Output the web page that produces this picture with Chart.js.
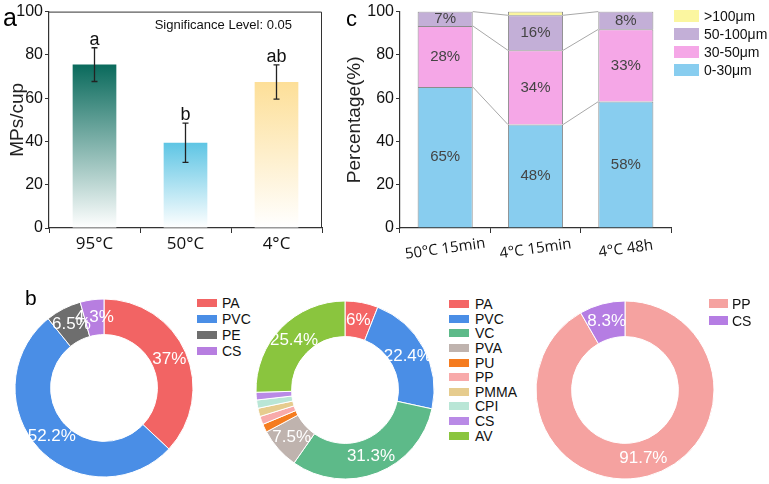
<!DOCTYPE html>
<html>
<head>
<meta charset="utf-8">
<script src="https://cdn.jsdelivr.net/npm/chart.js@4.4.1/dist/chart.umd.min.js"></script>
<style>
  body { margin: 0; width: 769px; height: 484px; position: relative; overflow: hidden; background: #fff;
         font-family: "Liberation Sans", Arial, sans-serif; color: #111; }
  canvas { position: absolute; }
  .tag { position: absolute; line-height: 1; color: #000; }
  .legend { position: absolute; font-size: 14px; color: #111; }
  .legend .item { display: flex; align-items: center; white-space: nowrap; }
  .legend .sw { display: inline-block; flex: none; }
</style>
</head>
<body>
<canvas id="chartA" width="330" height="260" style="left:0;top:0"></canvas>
<canvas id="chartC" width="345" height="260" style="left:330px;top:0"></canvas>
<canvas id="donut1" width="180" height="180" style="left:14px;top:298px"></canvas>
<canvas id="donut2" width="180" height="180" style="left:255px;top:300px"></canvas>
<canvas id="donut3" width="180" height="180" style="left:535px;top:300px"></canvas>

<div class="tag" style="left:3px;top:5px;font-size:25px">a</div>
<div class="tag" style="left:346px;top:8px;font-size:22px">c</div>
<div class="tag" style="left:25px;top:287px;font-size:21px">b</div>

<div class="legend" id="legendC" style="left:674px;top:7px"></div>
<div class="legend" id="legend1" style="left:197px;top:295px"></div>
<div class="legend" id="legend2" style="left:449px;top:297px"></div>
<div class="legend" id="legend3" style="left:709px;top:295px"></div>

<script>
// --- Panel a: MPs per cup at three temperatures ---
const tempLabels = ['95°C', '50°C', '4°C'];
const mpsMean = [75.5, 39.4, 67.5];
const mpsError = [7.8, 9.1, 7.9];
const sigLetters = ['a', 'b', 'ab'];
const yTicksA = [0, 20, 40, 60, 80, 100];

// --- Panel c: size distribution (%) ---
const sizeGroups = ['50°C 15min', '4°C 15min', '4°C 48h'];
const sizeClasses = ['0-30μm', '30-50μm', '50-100μm', '>100μm'];
const size0to30 = [65.2, 47.8, 58.4];
const size30to50 = [28.2, 34.3, 33.4];
const size50to100 = [6.6, 16.2, 8.2];
const sizeOver100 = [0, 1.7, 0];

// --- Panel b: polymer composition (%) ---
const polymers1 = ['PA', 'PVC', 'PE', 'CS'];
const shares1 = [37, 52.2, 6.5, 4.3];
const polymers2 = ['PA', 'PVC', 'VC', 'PVA', 'PU', 'PP', 'PMMA', 'CPI', 'CS', 'AV'];
const shares2 = [6, 22.4, 31.3, 7.5, 1.5, 1.5, 1.5, 1.5, 1.4, 25.4];
const polymers3 = ['PP', 'CS'];
const shares3 = [91.7, 8.3];

// colours
const barTopColors = ['#0a6a5c', '#5ec5e4', '#fddf98'];
const sizeColors = ['#88cdef', '#f5a7e7', '#c3afd7', '#fbf6a0'];
const donutColors1 = ['#f26464', '#4a8ee6', '#6e6e6e', '#b77ee0'];
const donutColors2 = ['#f46565', '#4a8ee6', '#5dba89', '#bfb3ae', '#f57c1f', '#f8aaaa', '#e6cc8e', '#b9e6d6', '#b98ae6', '#8ac53e'];
const donutColors3 = ['#f5a2a0', '#b57de3'];

const sansFont = "'Liberation Sans', Arial, sans-serif";
const tickFont = "'Open Sans', sans-serif";
Chart.defaults.font.family = sansFont;
Chart.defaults.color = '#111';
Chart.defaults.animation = false;

// Vertical gradient for each bar in panel a (solid at top, fading to white at the base).
function barGradient(context) {
    const chart = context.chart;
    const i = context.dataIndex;
    if (!chart.chartArea) return barTopColors[i];
    const y = chart.scales.y;
    const top = y.getPixelForValue(mpsMean[i]);
    const g = chart.ctx.createLinearGradient(0, top, 0, y.getPixelForValue(0));
    g.addColorStop(0, barTopColors[i]);
    g.addColorStop(1, '#ffffff');
    return g;
}

// Error bars, significance letters, top/right frame and the annotation.
const errorBarPlugin = {
    id: 'errorBars',
    afterDatasetsDraw(chart) {
        const { ctx, chartArea, scales: { y } } = chart;
        const meta = chart.getDatasetMeta(0);
        ctx.save();
        meta.data.forEach((bar, i) => {
            const hi = y.getPixelForValue(mpsMean[i] + mpsError[i]);
            const lo = y.getPixelForValue(mpsMean[i] - mpsError[i]);
            ctx.strokeStyle = '#222';
            ctx.lineWidth = 1.3;
            ctx.beginPath();
            ctx.moveTo(bar.x, hi); ctx.lineTo(bar.x, lo);
            ctx.moveTo(bar.x - 3, hi); ctx.lineTo(bar.x + 3, hi);
            ctx.moveTo(bar.x - 3, lo); ctx.lineTo(bar.x + 3, lo);
            ctx.stroke();
            ctx.fillStyle = '#111';
            ctx.font = '18px ' + sansFont;
            ctx.textAlign = 'center';
            ctx.textBaseline = 'alphabetic';
            ctx.fillText(sigLetters[i], bar.x, hi - 3);
        });
        ctx.strokeStyle = '#333';
        ctx.lineWidth = 1;
        ctx.beginPath();
        ctx.moveTo(chartArea.left, chartArea.top + 0.5);
        ctx.lineTo(chartArea.right - 0.5, chartArea.top + 0.5);
        ctx.lineTo(chartArea.right - 0.5, chartArea.bottom);
        ctx.stroke();
        ctx.fillStyle = '#111';
        ctx.font = '13px ' + sansFont;
        ctx.textAlign = 'right';
        ctx.textBaseline = 'middle';
        ctx.fillText('Significance Level: 0.05', chartArea.right - 30, chartArea.top + 14);
        ctx.restore();
    }
};

new Chart(document.getElementById('chartA'), {
    type: 'bar',
    data: {
        labels: tempLabels,
        datasets: [{ data: mpsMean, backgroundColor: barGradient, barPercentage: 0.48, categoryPercentage: 1 }]
    },
    options: {
        responsive: false,
        layout: { padding: { top: 11, right: 8, left: 0, bottom: 0 } },
        plugins: { legend: { display: false }, tooltip: { enabled: false } },
        scales: {
            x: {
                grid: { drawOnChartArea: false, tickLength: 5, color: '#333' },
                border: { color: '#333', width: 1.2 },
                ticks: { font: { family: tickFont, size: 17 }, color: '#111', padding: 1 },
                afterFit: s => { s.height = 32; }
            },
            y: {
                min: 0, max: 100,
                afterBuildTicks: s => { s.ticks = yTicksA.map(v => ({ value: v })); },
                grid: { drawOnChartArea: false, tickLength: 4, color: '#333' },
                border: { color: '#333', width: 1.2 },
                ticks: { font: { size: 16 }, color: '#111', padding: 2 },
                title: { display: true, text: 'MPs/cup', font: { size: 19 }, color: '#222', padding: { top: 6 } },
                afterFit: s => { s.width = 49; }
            }
        }
    },
    plugins: [errorBarPlugin]
});

// --- Panel c ---
const sizeSeries = [size0to30, size30to50, size50to100, sizeOver100];

const stackPlugin = {
    id: 'stackExtras',
    afterDatasetsDraw(chart) {
        const { ctx, scales: { x } } = chart;
        ctx.save();
        // connectors between the tops of matching segments
        ctx.strokeStyle = '#a8a8a8';
        ctx.lineWidth = 1;
        for (let k = 0; k < 3; k++) {
            const bars = chart.getDatasetMeta(k).data;
            for (let j = 0; j < bars.length - 1; j++) {
                ctx.beginPath();
                ctx.moveTo(bars[j].x + bars[j].width / 2, bars[j].y);
                ctx.lineTo(bars[j + 1].x - bars[j + 1].width / 2, bars[j + 1].y);
                ctx.stroke();
            }
        }
        // percentage labels in the segments
        ctx.fillStyle = '#444';
        ctx.font = '15px ' + sansFont;
        ctx.textAlign = 'center';
        ctx.textBaseline = 'middle';
        sizeSeries.forEach((series, k) => {
            chart.getDatasetMeta(k).data.forEach((bar, j) => {
                if (series[j] < 3) return;
                const p = bar.getCenterPoint();
                ctx.fillText(Math.round(series[j]) + '%', p.x, p.y);
            });
        });
        // rotated category labels
        ctx.fillStyle = '#111';
        ctx.font = '15px ' + tickFont;
        sizeGroups.forEach((label, j) => {
            ctx.save();
            ctx.translate(x.getPixelForTick(j), x.top + 21);
            ctx.rotate(-8 * Math.PI / 180);
            ctx.fillText(label, 0, 0);
            ctx.restore();
        });
        ctx.restore();
    }
};

new Chart(document.getElementById('chartC'), {
    type: 'bar',
    data: {
        labels: sizeGroups,
        datasets: sizeSeries.map((series, k) => ({
            label: sizeClasses[k],
            data: series,
            backgroundColor: sizeColors[k],
            borderColor: '#8c8c8c',
            borderWidth: 1,
            barPercentage: 0.61,
            categoryPercentage: 1
        }))
    },
    options: {
        responsive: false,
        layout: { padding: { top: 9, right: 4, left: 0, bottom: 0 } },
        plugins: { legend: { display: false }, tooltip: { enabled: false } },
        scales: {
            x: {
                stacked: true,
                grid: { drawOnChartArea: false, tickLength: 5, color: '#333' },
                border: { color: '#333', width: 1.2 },
                ticks: { display: false },
                afterFit: s => { s.height = 32; }
            },
            y: {
                stacked: true,
                min: 0, max: 100,
                afterBuildTicks: s => { s.ticks = yTicksA.map(v => ({ value: v })); },
                grid: { drawOnChartArea: false, tickLength: 4, color: '#333' },
                border: { color: '#333', width: 1.2 },
                ticks: { font: { size: 16 }, color: '#111', padding: 2 },
                title: { display: true, text: 'Percentage(%)', font: { size: 19 }, color: '#222', padding: { top: 13 } },
                afterFit: s => { s.width = 70; }
            }
        }
    },
    plugins: [stackPlugin]
});

// --- Panel b: doughnuts ---
const donutLabelPlugin = {
    id: 'donutLabels',
    afterDatasetsDraw(chart) {
        const { ctx } = chart;
        const values = chart.data.datasets[0].data;
        ctx.save();
        ctx.fillStyle = '#fff';
        ctx.font = '17px ' + sansFont;
        ctx.textAlign = 'center';
        ctx.textBaseline = 'middle';
        chart.getDatasetMeta(0).data.forEach((arc, i) => {
            if (values[i] < 4) return;
            const p = arc.getCenterPoint();
            ctx.fillText(values[i] + '%', p.x, p.y);
        });
        ctx.restore();
    }
};

function makeDonut(id, names, values, colors) {
    return new Chart(document.getElementById(id), {
        type: 'doughnut',
        data: {
            labels: names,
            datasets: [{ data: values, backgroundColor: colors, borderColor: '#fff', borderWidth: 1 }]
        },
        options: {
            responsive: false,
            radius: 89,
            cutout: '60%',
            layout: { padding: 0 },
            plugins: { legend: { display: false }, tooltip: { enabled: false } }
        },
        plugins: [donutLabelPlugin]
    });
}

makeDonut('donut1', polymers1, shares1, donutColors1);
makeDonut('donut2', polymers2, shares2, donutColors2);
makeDonut('donut3', polymers3, shares3, donutColors3);

// --- Legends ---
function buildLegend(id, names, colors, box) {
    const el = document.getElementById(id);
    names.forEach((name, i) => {
        const row = document.createElement('div');
        row.className = 'item';
        row.style.height = box.row + 'px';
        const sw = document.createElement('span');
        sw.className = 'sw';
        sw.style.width = box.w + 'px';
        sw.style.height = box.h + 'px';
        sw.style.marginRight = box.gap + 'px';
        sw.style.background = colors[i];
        row.appendChild(sw);
        row.appendChild(document.createTextNode(name));
        el.appendChild(row);
    });
}

buildLegend('legendC', sizeClasses.slice().reverse(), sizeColors.slice().reverse(), { w: 25, h: 12, row: 18, gap: 5 });
buildLegend('legend1', polymers1, donutColors1, { w: 20, h: 8, row: 16, gap: 5 });
buildLegend('legend2', polymers2, donutColors2, { w: 20, h: 8, row: 14.6, gap: 6 });
buildLegend('legend3', polymers3, donutColors3, { w: 19, h: 9, row: 17, gap: 4 });
</script>
</body>
</html>
